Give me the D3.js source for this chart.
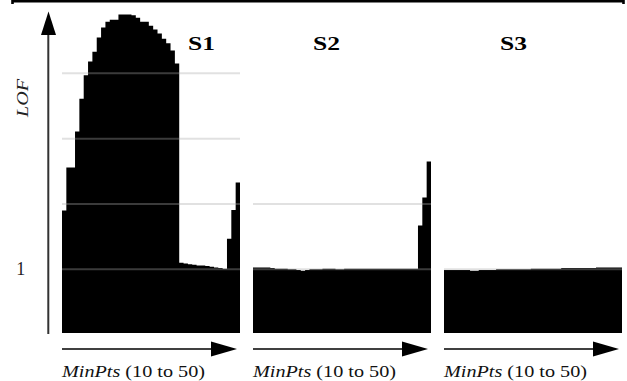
<!DOCTYPE html>
<html><head><meta charset="utf-8">
<script src="https://cdn.jsdelivr.net/npm/d3@7"></script>
<style>html,body{margin:0;padding:0;background:#fff;} svg{display:block;}</style>
</head><body>
<script>
// ---------- data ----------
const panels = ["S1", "S2", "S3"];
const minPts = [10,11,12,13,14,15,16,17,18,19,20,21,22,23,24,25,26,27,28,29,30,
                31,32,33,34,35,36,37,38,39,40,41,42,43,44,45,46,47,48,49,50];
const lofS1 = [1.90,2.56,2.56,3.11,3.61,3.97,4.18,4.33,4.55,4.70,4.79,4.82,4.82,4.90,4.90,4.90,4.89,4.85,4.79,4.79,
               4.73,4.67,4.61,4.53,4.46,4.35,4.15,1.10,1.09,1.08,1.07,1.06,1.06,1.05,1.04,1.03,1.02,1.01,1.47,1.91,2.33];
const lofS2 = [1.03,1.03,1.03,1.03,1.02,1.01,1.01,1.01,1.00,1.00,0.99,0.98,0.99,1.00,1.00,1.00,1.01,1.01,1.01,1.00,
               1.00,1.01,1.01,1.01,1.01,1.01,1.01,1.01,1.01,1.01,1.01,1.01,1.01,1.01,1.01,1.01,1.01,1.01,1.67,2.10,2.65];
const lofS3 = [0.99,0.99,0.99,0.99,0.99,0.99,0.98,0.98,0.99,0.99,0.99,0.99,1.00,1.00,1.00,1.00,1.00,1.00,1.00,1.00,
               1.01,1.01,1.01,1.01,1.01,1.01,1.01,1.02,1.02,1.02,1.02,1.02,1.02,1.02,1.02,1.03,1.03,1.03,1.03,1.03,1.03];
const series = [lofS1, lofS2, lofS3];
const gridTicks = [1, 2, 3, 4];
const yTickLabels = [1];
const yAxisTitle = "LOF";
const xAxisTitleItalic = "MinPts";
const xAxisTitleRest = " (10 to 50)";

// ---------- layout ----------
const W = 627, H = 381;
const plotBottom = 333;
const panelLabelOffset = [126, 60, 56];
const serif = "'Liberation Serif','Times New Roman',serif";

const svg = d3.select("body").append("svg").attr("width", W).attr("height", H);

const y = d3.scaleLinear().domain([0, 5]).range([334.7, 8.0]);
const xPanel = d3.scaleBand().domain(panels).range([62, 622]).paddingInner(13 / 191).paddingOuter(0);
const xBar = d3.scaleBand().domain(minPts).range([0, xPanel.bandwidth()]).padding(0);

// top frame fragment
svg.append("path").attr("d", `M12.5,4 V1.3 H623.5 V4`).attr("fill", "none")
   .attr("stroke", "#000").attr("stroke-width", 2.6);

// y axis
const yAxisG = svg.append("g").attr("transform", "translate(48.3,0)")
  .call(d3.axisLeft(y).tickValues(yTickLabels).tickSize(0).tickPadding(23).tickFormat(d3.format("d")));
yAxisG.select(".domain").remove();
yAxisG.selectAll("text").attr("font-family", serif).attr("font-size", 18).attr("fill", "#222").attr("dy", "0.30em");
svg.append("line").attr("x1", 48.3).attr("x2", 48.3).attr("y1", 334).attr("y2", 30)
   .attr("stroke", "#333").attr("stroke-width", 2);
svg.append("path").attr("d", "M48.5,11.5 L56,35 L41,35 Z").attr("fill", "#000");

// y title
const lofText = svg.append("text").attr("transform", "translate(28,117) rotate(-90)")
  .attr("font-family", serif).attr("font-style", "italic").attr("font-size", 17).attr("fill", "#222")
  .text(yAxisTitle);
{
  const len = lofText.node().getComputedTextLength();
  lofText.attr("transform", `translate(28,117) rotate(-90) scale(${38 / len},1)`);
}

panels.forEach((p, i) => {
  const x0 = xPanel(p);
  const g = svg.append("g").attr("transform", `translate(${x0},0)`);
  const vals = series[i];
  const data = minPts.map((m, j) => ({ x: xBar(m), v: vals[j] }));
  // closing edge of the last column
  data.push({ x: xBar(minPts[minPts.length - 1]) + xBar.bandwidth(), v: vals[vals.length - 1] });

  const area = d3.area().curve(d3.curveStepAfter)
    .x(d => d.x).y0(plotBottom).y1(d => y(d.v));
  g.append("path").datum(data).attr("d", area).attr("fill", "#000");

  const maxV = d3.max(vals);
  g.selectAll("line.grid").data(gridTicks.filter(t => t < maxV)).join("line").attr("class", "grid")
    .attr("x1", 0).attr("x2", xPanel.bandwidth())
    .attr("y1", d => y(d)).attr("y2", d => y(d))
    .attr("stroke", "#aaa").attr("stroke-opacity", 0.35).attr("stroke-width", 2);

  // panel label
  g.append("text").attr("x", panelLabelOffset[i]).attr("y", 50)
    .attr("font-family", serif).attr("font-weight", "bold").attr("font-size", 18).attr("fill", "#000")
    .text(p)
    .each(function () {
      const len = this.getComputedTextLength();
      const lx = panelLabelOffset[i];
      d3.select(this).attr("transform", `translate(${lx},0) scale(${27 / len},1) translate(${-lx},0)`);
    });

  // x arrow
  const ax1 = 175;
  g.append("line").attr("x1", 0).attr("x2", ax1 - 20).attr("y1", 349).attr("y2", 349)
    .attr("stroke", "#000").attr("stroke-width", 1.5);
  g.append("path").attr("d", `M${ax1},349 L${ax1 - 26},341.5 L${ax1 - 26},356.5 Z`).attr("fill", "#000");

  // x title
  const t = g.append("text").attr("x", 0).attr("y", 377)
    .attr("font-family", serif).attr("font-size", 17).attr("fill", "#111");
  t.append("tspan").attr("font-style", "italic").text(xAxisTitleItalic);
  t.append("tspan").text(xAxisTitleRest);
  const len = t.node().getComputedTextLength();
  t.attr("transform", `scale(${143 / len},1)`);
});
</script>
</body></html>
